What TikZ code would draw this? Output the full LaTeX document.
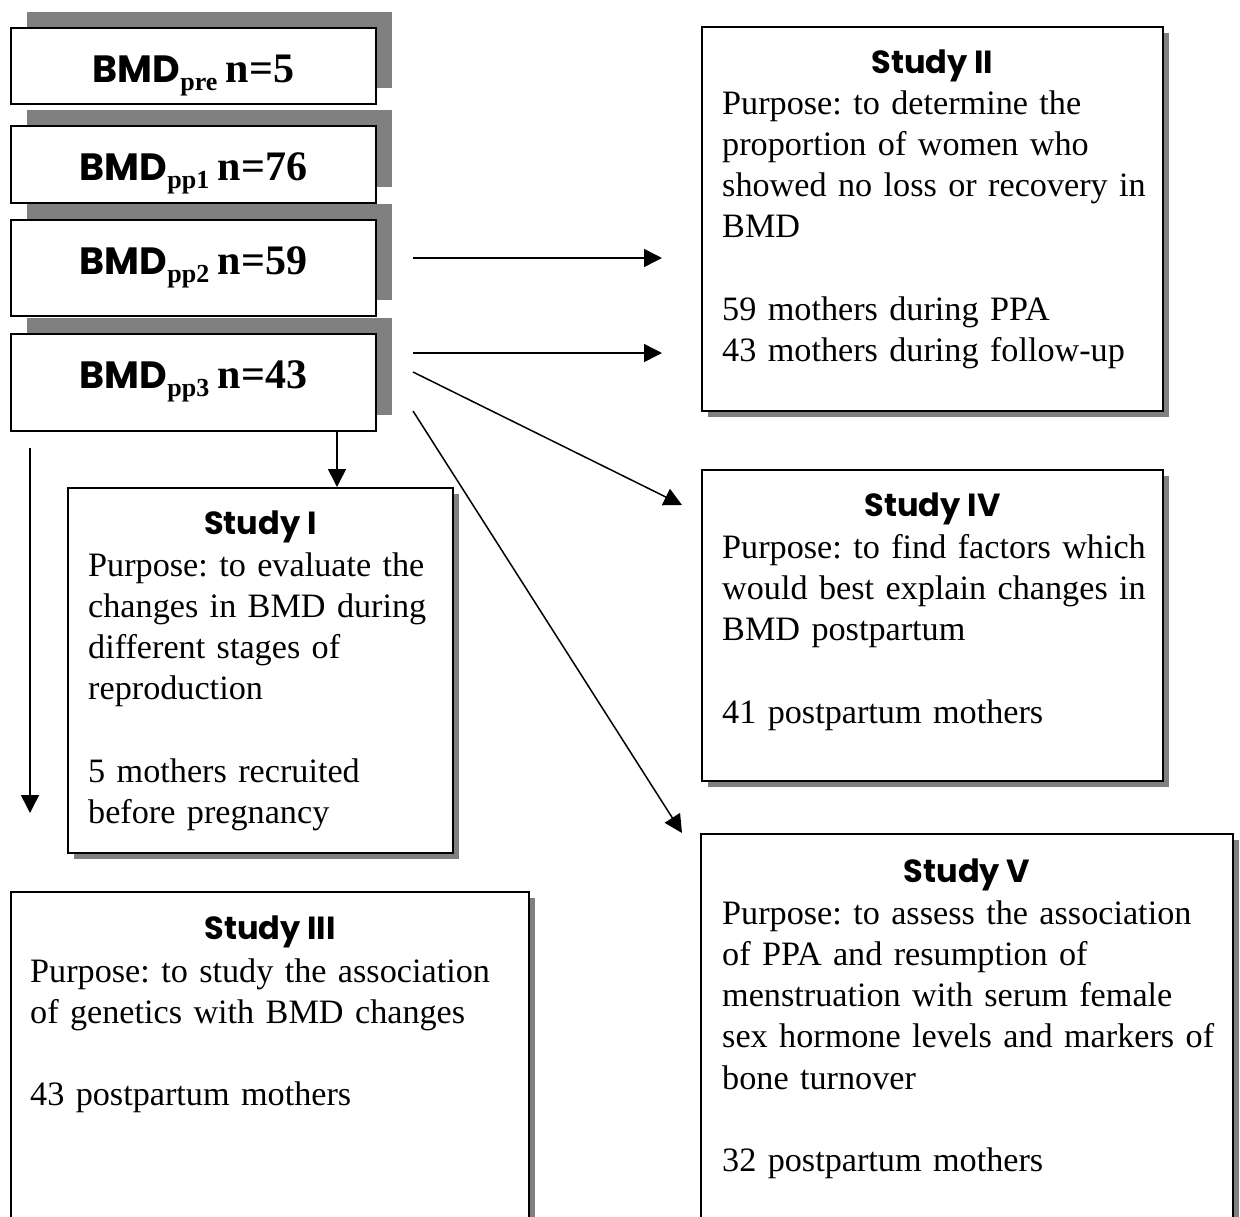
\documentclass[tikz,border=0pt]{standalone}
\usepackage{fontspec}
\setmainfont{Liberation Serif}[WordSpace=0.8]
\newfontfamily\gothic{Poppins}
\usetikzlibrary{arrows.meta,shadows}
\frenchspacing

\newcommand{\bmdlabel}[2]{{\gothic\bfseries\fontsize{38}{38}\selectfont BMD}\raisebox{-8pt}{\fontsize{26}{26}\selectfont\bfseries #1} {\bfseries n=#2}}

\begin{document}
\begin{tikzpicture}[x=1pt,y=-1pt,
            bmdbox/.style={draw,line width=2pt,fill=white,anchor=north west,minimum width=365pt,inner sep=0pt,
                drop shadow={shadow xshift=16pt,shadow yshift=16pt,fill=black!50,opacity=1}},
            bmdtext/.style={anchor=base,inner sep=0pt,font=\fontsize{42}{42}\selectfont},
            studybox/.style={draw,line width=2pt,fill=white,anchor=north west,inner sep=0pt,
                drop shadow={shadow xshift=6pt,shadow yshift=-6pt,fill=black!50,opacity=1}},
            studytitle/.style={anchor=base,inner sep=0pt,font=\gothic\bfseries\fontsize{32}{32}\selectfont},
            studytext/.style={anchor=base west,align=left,inner sep=0pt,text width=600pt,font=\fontsize{34.2}{41.3}\selectfont},
            arr/.style={line width=1.5pt,-{Triangle[length=18pt,width=18pt]}}]
            \useasboundingbox (0,0) rectangle (1240,1216);
            \clip (0,0) rectangle (1240,1216);
            \fill[white] (0,0) rectangle (1240,1216);

            \node[bmdbox,minimum height=76pt] (pre) at (10,27) {};
            \node[bmdtext] (pretext) at ([yshift=-55pt]pre.north) {\bmdlabel{pre}{5}};
            \node[bmdbox,minimum height=77pt] (pp1) at (10,125) {};
            \node[bmdtext] (pp1text) at ([yshift=-55pt]pp1.north) {\bmdlabel{pp1}{76}};
            \node[bmdbox,minimum height=96pt] (pp2) at (10,219) {};
            \node[bmdtext] (pp2text) at ([yshift=-55pt]pp2.north) {\bmdlabel{pp2}{59}};
            \node[bmdbox,minimum height=97pt] (pp3) at (10,333) {};
            \node[bmdtext] (pp3text) at ([yshift=-55pt]pp3.north) {\bmdlabel{pp3}{43}};

            \node[studybox,minimum width=385pt,minimum height=365pt] (s1) at (67,487) {};
            \node[studytitle] (s1title) at ([yshift=-47pt]s1.north) {Study I};
            \node[studytext] (s1text) at ([xshift=21pt,yshift=-89pt]s1.north west) {Purpose: to evaluate the\\changes in BMD during\\different stages of\\reproduction\\[41.3pt]5 mothers recruited\\before pregnancy};

            \node[studybox,minimum width=461pt,minimum height=384pt] (s2) at (701,26) {};
            \node[studytitle] (s2title) at ([yshift=-47pt]s2.north) {Study II};
            \node[studytext] (s2text) at ([xshift=21pt,yshift=-88pt]s2.north west) {Purpose: to determine the\\proportion of women who\\showed no loss or recovery in\\BMD\\[41.3pt]59 mothers during PPA\\43 mothers during follow-up};

            \node[studybox,minimum width=518pt,minimum height=360pt] (s3) at (10,891) {};
            \node[studytitle] (s3title) at ([yshift=-48pt]s3.north) {Study III};
            \node[studytext] (s3text) at ([xshift=20pt,yshift=-91pt]s3.north west) {Purpose: to study the association\\of genetics with BMD changes\\[41.3pt]43 postpartum mothers};

            \node[studybox,minimum width=461pt,minimum height=311pt] (s4) at (701,469) {};
            \node[studytitle] (s4title) at ([yshift=-47pt]s4.north) {Study IV};
            \node[studytext] (s4text) at ([xshift=21pt,yshift=-89pt]s4.north west) {Purpose: to find factors which\\would best explain changes in\\BMD postpartum\\[41.3pt]41 postpartum mothers};

            \node[studybox,minimum width=532pt,minimum height=420pt] (s5) at (700,833) {};
            \node[studytitle] (s5title) at ([yshift=-49pt]s5.north) {Study V};
            \node[studytext] (s5text) at ([xshift=22pt,yshift=-91pt]s5.north west) {Purpose: to assess the association\\of PPA and resumption of\\menstruation with serum female\\sex hormone levels and markers of\\bone turnover\\[41.3pt]32 postpartum mothers};

            \coordinate (o2) at (413,258);
            \coordinate (e2) at (662,258);
            \coordinate (o3) at (413,353);
            \coordinate (e3) at (662,353);
            \coordinate (o4) at (413,372);
            \coordinate (e4) at (682,505);
            \coordinate (o5) at (413,411);
            \coordinate (e5) at (682,833);
            \coordinate (o1) at (337,432);
            \coordinate (oL) at (30,448);
            \coordinate (eL) at (30,813);

            \draw[arr] (o2) -- (e2);
            \draw[arr] (o3) -- (e3);
            \draw[arr] (o4) -- (e4);
            \draw[arr] (o5) -- (e5);
            \draw[arr] (o1) -- (o1 |- s1.north);
            \draw[arr] (oL) -- (eL);
         \end{tikzpicture}
\end{document}
